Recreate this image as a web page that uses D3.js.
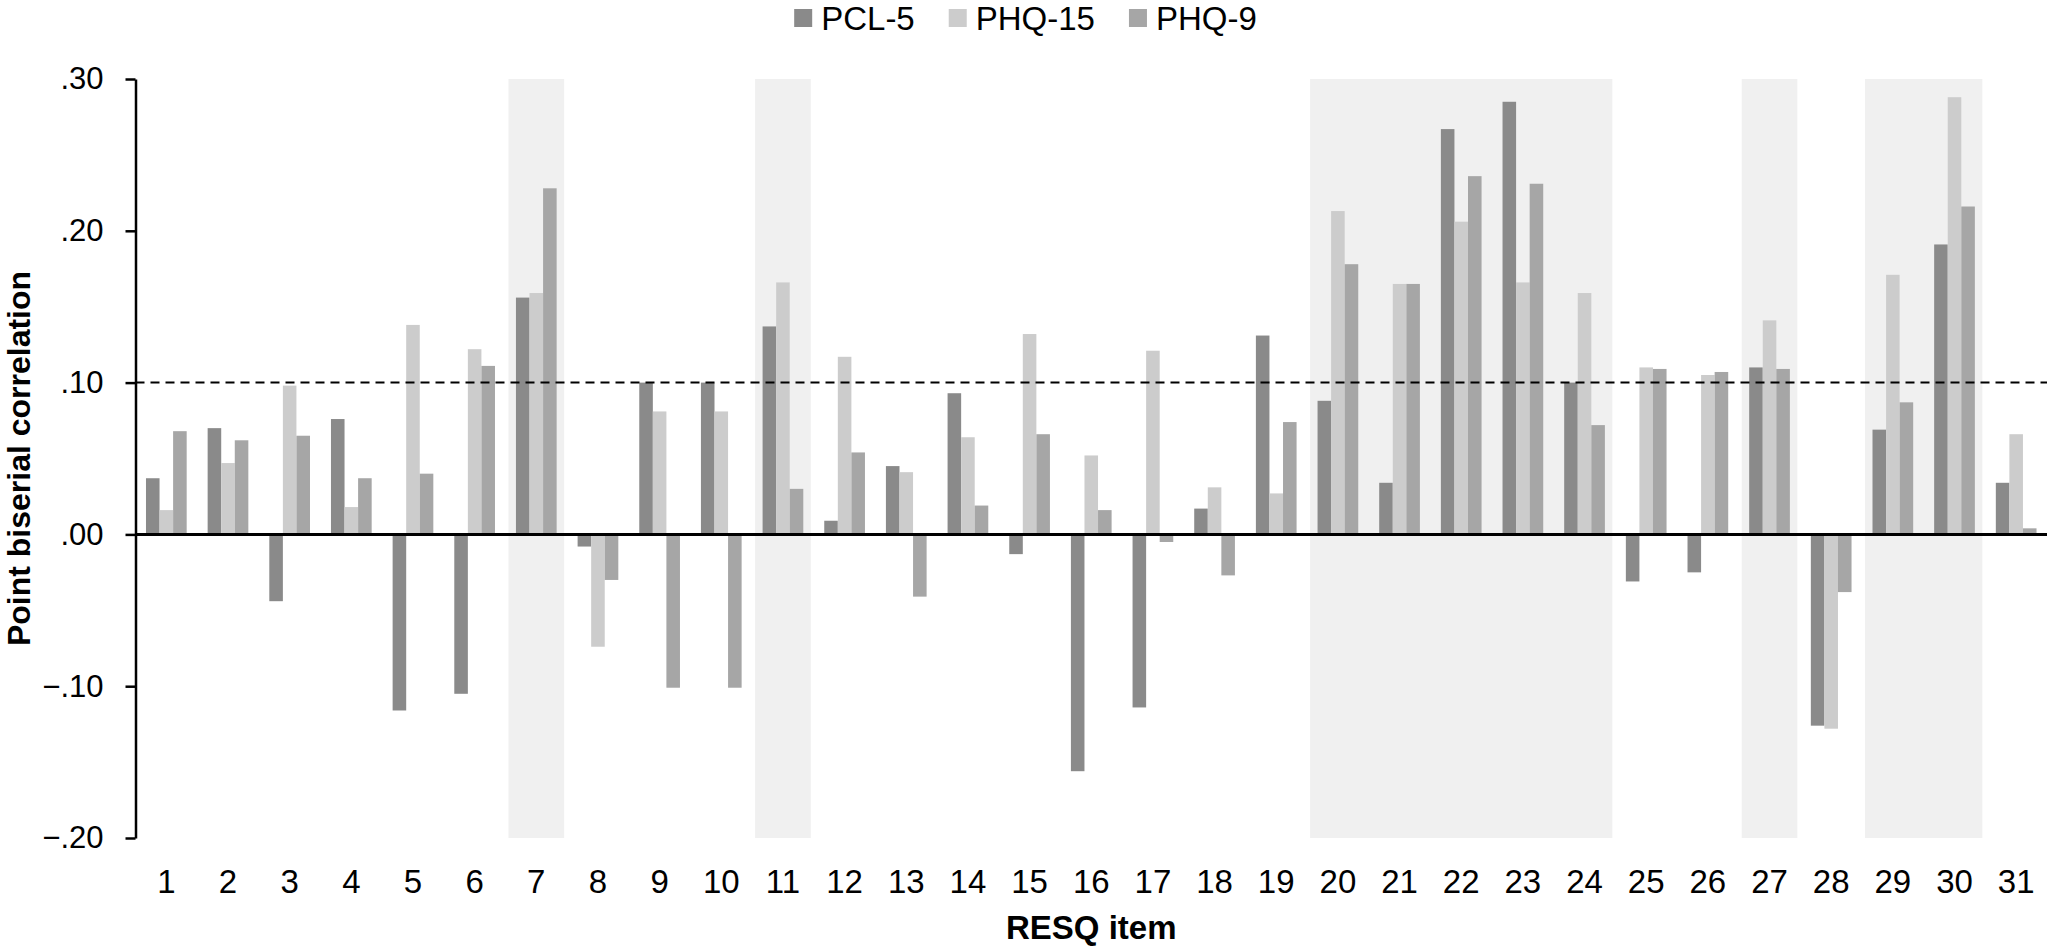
<!DOCTYPE html>
<html>
<head>
<meta charset="utf-8">
<script src="https://cdn.jsdelivr.net/npm/d3@7"></script>
<style>
	html, body { margin: 0; padding: 0; background: #ffffff; }
	svg { display: block; font-family: "Liberation Sans", Arial, sans-serif; }
</style>
</head>
<body>
<div id="chart"></div>
<script>
//////////
// DATA //
//////////
var items = d3.range(1, 32).map(String);
var seriesNames = ["PCL-5", "PHQ-15", "PHQ-9"];
var pcl5 = [0.037, 0.070, -0.044, 0.076, -0.116, -0.105, 0.156, -0.008, 0.100, 0.100,
	0.137, 0.009, 0.045, 0.093, -0.013, -0.156, -0.114, 0.017, 0.131, 0.088,
	0.034, 0.267, 0.285, 0.100, -0.031, -0.025, 0.110, -0.126, 0.069, 0.191, 0.034];
var phq15 = [0.016, 0.047, 0.098, 0.018, 0.138, 0.122, 0.159, -0.074, 0.081, 0.081,
	0.166, 0.117, 0.041, 0.064, 0.132, 0.052, 0.121, 0.031, 0.027, 0.213,
	0.165, 0.206, 0.166, 0.159, 0.110, 0.105, 0.141, -0.128, 0.171, 0.288, 0.066];
var phq9 = [0.068, 0.062, 0.065, 0.037, 0.040, 0.111, 0.228, -0.030, -0.101, -0.101,
	0.030, 0.054, -0.041, 0.019, 0.066, 0.016, -0.005, -0.027, 0.074, 0.178,
	0.165, 0.236, 0.231, 0.072, 0.109, 0.107, 0.109, -0.038, 0.087, 0.216, 0.004];
var shadedRanges = [["7", "7"], ["11", "11"], ["20", "24"], ["27", "27"], ["29", "30"]];
var yTicks = [-0.2, -0.1, 0, 0.1, 0.2, 0.3];
var cutoff = 0.10;

/////////////////
// "CONSTANTS" //
/////////////////
var WIDTH = 2051;
var HEIGHT = 948;
var PLOT_LEFT = 135.5;
var PLOT_RIGHT = 2047;
var PLOT_TOP = 79;
var PLOT_BOTTOM = 838;
var GROUP_PAD = 0.17;
var SHADE_INSET = 3;
var SHADE_COLOR = "#f0f0f0";
var SERIES_COLORS = ["#8a8a8a", "#cccccc", "#a6a6a6"];
var TEXT_COLOR = "#000000";

///////////////
// FUNCTIONS //
///////////////
var formatTick = function(d) {
	return d3.format(".2f")(d).replace("0.", ".");
};

var drawChart = function() {
	var svg = d3.select("#chart")
		.append("svg")
		.attr("width", WIDTH)
		.attr("height", HEIGHT);

	var x0 = d3.scaleBand()
		.domain(items)
		.range([PLOT_LEFT, PLOT_RIGHT])
		.padding(0);
	var pad = x0.bandwidth() * GROUP_PAD;
	var x1 = d3.scaleBand()
		.domain(seriesNames)
		.range([pad, x0.bandwidth() - pad])
		.padding(0);
	var y = d3.scaleLinear()
		.domain([-0.2, 0.3])
		.range([PLOT_BOTTOM, PLOT_TOP]);
	var color = d3.scaleOrdinal()
		.domain(seriesNames)
		.range(SERIES_COLORS);

	// shaded item groups
	svg.append("g")
		.selectAll("rect")
		.data(shadedRanges)
		.join("rect")
		.attr("x", function(d) { return x0(d[0]) + SHADE_INSET; })
		.attr("y", y(0.3))
		.attr("width", function(d) { return x0(d[1]) + x0.bandwidth() - x0(d[0]) - 2*SHADE_INSET; })
		.attr("height", y(-0.2) - y(0.3))
		.attr("fill", SHADE_COLOR);

	// bars
	var values = [pcl5, phq15, phq9];
	var rows = items.map(function(item, i) {
		return seriesNames.map(function(name, j) {
			return { item: item, key: name, value: values[j][i] };
		});
	});
	svg.append("g")
		.selectAll("g")
		.data(rows)
		.join("g")
		.attr("transform", function(d) { return "translate(" + x0(d[0].item) + ",0)"; })
		.selectAll("rect")
		.data(function(d) { return d; })
		.join("rect")
		.attr("x", function(d) { return x1(d.key); })
		.attr("y", function(d) { return y(Math.max(0, d.value)); })
		.attr("width", x1.bandwidth())
		.attr("height", function(d) { return Math.abs(y(d.value) - y(0)); })
		.attr("fill", function(d) { return color(d.key); });

	// cut-off line
	svg.append("line")
		.attr("x1", PLOT_LEFT)
		.attr("x2", PLOT_RIGHT)
		.attr("y1", y(cutoff))
		.attr("y2", y(cutoff))
		.attr("stroke", TEXT_COLOR)
		.attr("stroke-width", 2)
		.attr("stroke-dasharray", "9,6");

	// zero line
	svg.append("line")
		.attr("x1", PLOT_LEFT)
		.attr("x2", PLOT_RIGHT)
		.attr("y1", y(0))
		.attr("y2", y(0))
		.attr("stroke", TEXT_COLOR)
		.attr("stroke-width", 3);

	// y axis
	var yAxis = svg.append("g")
		.attr("transform", "translate(" + PLOT_LEFT + ",0)")
		.call(d3.axisLeft(y)
			.tickValues(yTicks)
			.tickSize(10)
			.tickSizeOuter(0)
			.tickPadding(22)
			.tickFormat(formatTick));
	yAxis.select(".domain")
		.attr("stroke", TEXT_COLOR)
		.attr("stroke-width", 2.5);
	yAxis.selectAll(".tick line")
		.attr("stroke", TEXT_COLOR)
		.attr("stroke-width", 2.5);
	yAxis.selectAll(".tick text")
		.attr("fill", TEXT_COLOR)
		.attr("font-size", 31)
		.attr("font-family", "\"Liberation Sans\", Arial, sans-serif");

	// x labels (axis sits on zero line, labels at bottom)
	svg.append("g")
		.selectAll("text")
		.data(items)
		.join("text")
		.attr("x", function(d) { return x0(d) + x0.bandwidth()/2; })
		.attr("y", 893)
		.attr("text-anchor", "middle")
		.attr("font-size", 33)
		.attr("fill", TEXT_COLOR)
		.text(function(d) { return d; });

	// axis titles
	svg.append("text")
		.attr("x", (PLOT_LEFT + PLOT_RIGHT)/2)
		.attr("y", 939)
		.attr("text-anchor", "middle")
		.attr("font-size", 33)
		.attr("font-weight", "bold")
		.attr("fill", TEXT_COLOR)
		.text("RESQ item");
	svg.append("text")
		.attr("transform", "translate(30," + (PLOT_TOP + PLOT_BOTTOM)/2 + ") rotate(-90)")
		.attr("text-anchor", "middle")
		.attr("font-size", 32)
		.attr("font-weight", "bold")
		.attr("fill", TEXT_COLOR)
		.text("Point biserial correlation");

	// legend, centred on the page
	var legend = svg.append("g");
	var cursor = 0;
	seriesNames.forEach(function(name, i) {
		var item = legend.append("g")
			.attr("transform", "translate(" + cursor + ",0)");
		item.append("rect")
			.attr("x", 0)
			.attr("y", 9)
			.attr("width", 18)
			.attr("height", 18)
			.attr("fill", color(name));
		var label = item.append("text")
			.attr("x", 27)
			.attr("y", 30)
			.attr("font-size", 33)
			.attr("fill", TEXT_COLOR)
			.text(name);
		cursor += 27 + label.node().getComputedTextLength() + 34;
	});
	var legendWidth = cursor - 34;
	legend.attr("transform", "translate(" + (WIDTH - legendWidth)/2 + ",0)");
};

//////////
// FLOW //
//////////
drawChart();
</script>
</body>
</html>
